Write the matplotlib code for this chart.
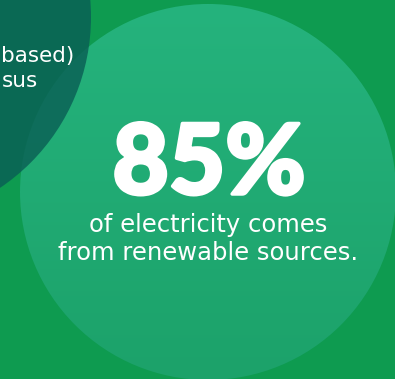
import numpy as np
import matplotlib
matplotlib.use('Agg')
import matplotlib.pyplot as plt
import matplotlib.patheffects as pe
from matplotlib.patches import Circle

# content
share_value = 85
big_label = '{}%'.format(share_value)
caption_lines = ['of electricity comes', 'from renewable sources.']
side_lines = ['based)', 'sus']

W, H = 395, 379
bg_color = '#0e9b50'
light_top = np.array([0x25, 0xb3, 0x7d]) / 255.
light_bottom = np.array([0x1c, 0xa2, 0x6a]) / 255.
dark_color = '#0a5f55'

fig = plt.figure(figsize=(W / 100., H / 100.), dpi=100)
ax = fig.add_axes([0, 0, 1, 1])
ax.set_xlim(0, W)
ax.set_ylim(H, 0)
ax.axis('off')
fig.patch.set_facecolor(bg_color)

# large light circle with a soft vertical gradient
cx, cy, r = 208, 192, 188
circ = Circle((cx, cy), r, facecolor='none', edgecolor='none')
ax.add_patch(circ)
t = np.linspace(0, 1, 256)[:, None, None]
grad = light_top[None, None, :] * (1 - t) + light_bottom[None, None, :] * t
img = ax.imshow(grad, extent=(cx - r, cx + r, cy + r, cy - r), aspect='auto',
                zorder=1, interpolation='bilinear')
img.set_clip_path(circ)

# dark circle in the top-left corner
ax.add_patch(Circle((-115, 17), 206, facecolor=dark_color, edgecolor='none',
                    alpha=0.82, zorder=2))

ax.set_xlim(0, W)
ax.set_ylim(H, 0)

# side text
ax.text(74, 62, side_lines[0], color='white', fontsize=15.5, family='DejaVu Sans',
        ha='right', va='baseline', zorder=3)
ax.text(38, 87, side_lines[1], color='white', fontsize=15.5, family='DejaVu Sans',
        ha='right', va='baseline', zorder=3)

# big number, thickened a little with a stroke
ax.text(209, 194, big_label, color='white', fontsize=70, family='Lato',
        fontweight='black', ha='center', va='baseline', zorder=3,
        path_effects=[pe.withStroke(linewidth=2.5, foreground='white')])

# caption
ax.text(208, 232, caption_lines[0], color='white', fontsize=17.5,
        family='DejaVu Sans', ha='center', va='baseline', zorder=3)
ax.text(208, 260, caption_lines[1], color='white', fontsize=17.5,
        family='DejaVu Sans', ha='center', va='baseline', zorder=3)

fig.savefig('out.png', dpi=100, facecolor=bg_color)
